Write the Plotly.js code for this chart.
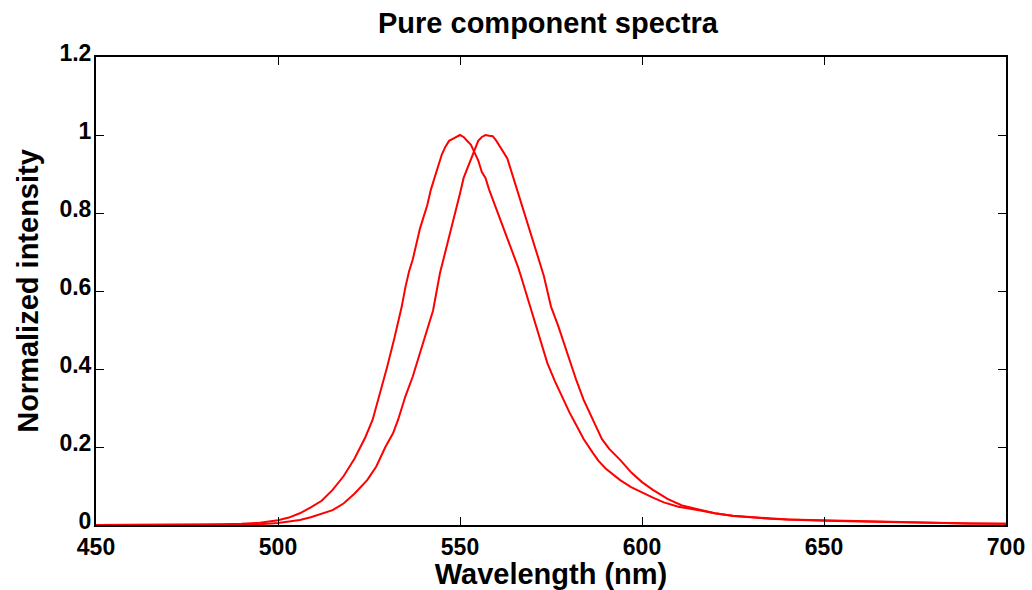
<!DOCTYPE html>
<html>
<head>
<meta charset="utf-8">
<script src="https://cdn.plot.ly/plotly-3.0.1.min.js"></script>
<style>body{margin:0;padding:0;background:#fff;}#chart{width:1032px;height:590px;}</style>
</head>
<body>
<div id="chart"></div>
<script>
// Component 1 (peak ~550 nm)
const wavelengthA = [450,460,470,480,485,490,495,500,503,506,509,512,515,518,521,524,526,528,530,532,534,535,536,537,538,539,540,541,542,543,544,545,546,547,548,549,550,551,552,553,554,555,556,557,558,559,560,561,562,563,564,565,566,567,568,569,570,572,574,576,578,580,582,584,586.5,588,590,592,594,597,600,603,606,610,616,620,625,630,635,640,650,660,670,680,690,700];
const intensityA = [0,0,0,0.001,0.002,0.003,0.006,0.012,0.019,0.03,0.045,0.062,0.09,0.125,0.17,0.225,0.27,0.335,0.406,0.48,0.56,0.61,0.65,0.68,0.72,0.76,0.79,0.82,0.86,0.89,0.92,0.95,0.97,0.985,0.99,0.995,1.0,0.995,0.985,0.975,0.955,0.935,0.905,0.89,0.86,0.835,0.81,0.79,0.765,0.74,0.715,0.69,0.66,0.63,0.6,0.565,0.535,0.474,0.415,0.37,0.33,0.29,0.255,0.22,0.185,0.165,0.145,0.13,0.115,0.097,0.083,0.07,0.058,0.047,0.037,0.03,0.024,0.02,0.017,0.014,0.012,0.009,0.007,0.005,0.004,0.003];

// Component 2 (peak ~557 nm)
const wavelengthB = [450,470,480,490,495,500,503,506,509,512,515,518,521,524.5,527,529.5,531.6,533,535,537,539,541,542.6,544.5,546,547,548,549,550,551,552,553,554,555,556,557,558,559,560,561,562,563,564,565,566,567,568,569,570,571,572,573,574,575,577,579.4,582,584,586.5,589,591,594,597,600,603,607,611,616,620,625,630,635,640,645,650,660,670,680,690,700];
const intensityB = [0,0,0,0.001,0.002,0.005,0.009,0.013,0.02,0.028,0.038,0.055,0.08,0.115,0.15,0.2,0.235,0.27,0.33,0.38,0.44,0.5,0.55,0.646,0.7,0.74,0.775,0.81,0.85,0.89,0.915,0.94,0.96,0.985,0.995,1.0,0.998,0.997,0.985,0.97,0.955,0.94,0.91,0.88,0.855,0.82,0.79,0.765,0.735,0.705,0.675,0.64,0.6,0.56,0.51,0.44,0.37,0.32,0.27,0.22,0.195,0.167,0.135,0.11,0.09,0.067,0.05,0.038,0.03,0.023,0.019,0.016,0.014,0.012,0.011,0.009,0.007,0.005,0.004,0.003];

const xTicks = [450,500,550,600,650,700];
const yTicks = [0,0.2,0.4,0.6,0.8,1,1.2];
const yTickText = ['0','0.2','0.4','0.6','0.8','1','1.2'];

const font = 'Liberation Sans, Arial, Helvetica, sans-serif';

const traces = [
  {x: wavelengthA, y: intensityA, type: 'scatter', mode: 'lines', line: {color: '#ff0000', width: 2}, hoverinfo: 'skip'},
  {x: wavelengthB, y: intensityB, type: 'scatter', mode: 'lines', line: {color: '#ff0000', width: 2}, hoverinfo: 'skip'}
];

const axisCommon = {
  showline: true, linecolor: '#000', linewidth: 2, mirror: 'ticks',
  ticks: 'inside', ticklen: 8, tickwidth: 1, tickcolor: '#000',
  showgrid: false, zeroline: false,
  tickfont: {family: font, size: 23, color: '#000', weight: 'bold'}
};

const layout = {
  width: 1032, height: 590,
  margin: {l: 96, r: 26, t: 57, b: 65},
  paper_bgcolor: '#fff', plot_bgcolor: '#fff',
  showlegend: false,
  title: {text: '<b>Pure component spectra</b>', font: {family: font, size: 29, color: '#000'}, x: 0.531, xanchor: 'center', y: 0.962, yanchor: 'middle'},
  xaxis: Object.assign({}, axisCommon, {
    range: [450, 700], tickvals: xTicks, ticktext: xTicks.map(String), ticklabelstandoff: 0,
    title: {text: '<b>Wavelength (nm)</b>', font: {family: font, size: 29, color: '#000'}, standoff: 0}
  }),
  yaxis: Object.assign({}, axisCommon, {
    range: [0, 1.2], tickvals: yTicks, ticktext: yTickText, ticklabelshift: -4, ticklabelstandoff: -2,
    title: {text: '<b>Normalized intensity</b>', font: {family: font, size: 29, color: '#000'}, standoff: 12}
  })
};

Plotly.newPlot('chart', traces, layout, {displayModeBar: false, staticPlot: true});
</script>
</body>
</html>
